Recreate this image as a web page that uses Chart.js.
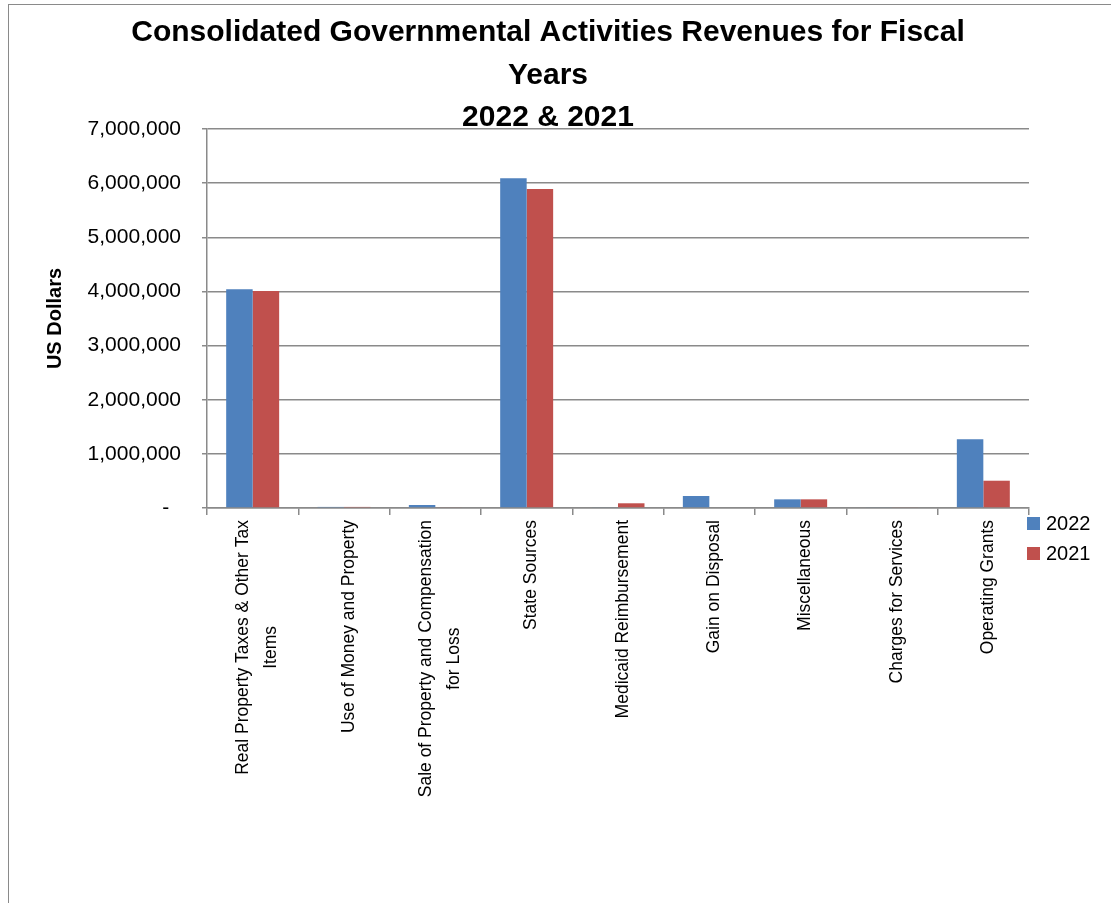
<!DOCTYPE html>
<html>
<head>
<meta charset="utf-8">
<script src="https://cdn.jsdelivr.net/npm/chart.js@4.4.0/dist/chart.umd.min.js"></script>
<style>
  html, body { margin: 0; padding: 0; background: #fff; }
  #wrap { position: relative; width: 1111px; height: 903px; overflow: hidden; }
  #frame { position: absolute; left: 8px; top: 4px; width: 1200px; height: 1000px;
           border-left: 1.5px solid #8a8a8a; border-top: 1.5px solid #8a8a8a; }
  #chart { position: absolute; left: 0; top: 0; }
  #legend { position: absolute; left: 1027px; top: 500px; font: 20px 'Liberation Sans', Arial, sans-serif; color: #000; }
  .lg-item { display: flex; align-items: center; height: 46px; margin-top: -16px; }
  .lg-item:first-child { margin-top: 0; }
  .lg-box { width: 13px; height: 13px; margin-right: 6px; }
</style>
</head>
<body>
<div id="wrap">
  <div id="frame"></div>
  <canvas id="chart" width="1111" height="903"></canvas>
  <div id="legend"></div>
</div>
<script>
const categories = [
  ['Real Property Taxes & Other Tax', 'Items'],
  'Use of Money and Property',
  ['Sale of Property and Compensation', 'for Loss'],
  'State Sources',
  'Medicaid Reimbursement',
  'Gain on Disposal',
  'Miscellaneous',
  'Charges for Services',
  'Operating Grants'
];
const revenue2022 = [4040000, 20000, 55000, 6090000, 15000, 222000, 160000, 15000, 1270000];
const revenue2021 = [4010000, 20000, 15000, 5890000, 87000, 0, 160000, 15000, 504000];
const titleLines = ['Consolidated Governmental Activities Revenues for Fiscal', 'Years', '2022 & 2021'];

const gridColor = '#8a8a8a';
const labelFont = "17.5px 'Liberation Sans', Arial, sans-serif";

/* ── chart title, centred over the plot like the Excel original ── */
const titlePlugin = {
  id: 'excelTitle',
  afterDraw(chart) {
    const ctx = chart.ctx;
    ctx.save();
    ctx.fillStyle = '#000';
    ctx.font = "bold 30px 'Liberation Sans', Arial, sans-serif";
    ctx.textAlign = 'center';
    ctx.textBaseline = 'middle';
    titleLines.forEach((line, i) => {
      ctx.fillText(line, 548, 33 + i * 42.5);
    });
    ctx.restore();
  }
};

/* ── rotated category labels, wrapped lines centred on each other ── */
const categoryLabels = {
  id: 'categoryLabels',
  afterDraw(chart) {
    const xs = chart.scales.x;
    const ctx = chart.ctx;
    ctx.save();
    ctx.font = labelFont;
    ctx.fillStyle = '#000';
    ctx.textAlign = 'center';
    ctx.textBaseline = 'middle';
    categories.forEach((label, i) => {
      const lines = Array.isArray(label) ? label : [label];
      const maxW = Math.max(...lines.map(l => ctx.measureText(l).width));
      const x = xs.getPixelForTick(i);
      ctx.save();
      ctx.translate(x + 5, xs.top + 12);
      ctx.rotate(-Math.PI / 2);
      lines.forEach((line, j) => {
        ctx.fillText(line, -maxW / 2, (j - (lines.length - 1) / 2) * 28);
      });
      ctx.restore();
    });
    ctx.restore();
  }
};

const chart = new Chart(document.getElementById('chart'), {
  type: 'bar',
  data: {
    labels: categories,
    datasets: [
      {
        label: '2022',
        data: revenue2022,
        backgroundColor: '#4F81BD',
        borderWidth: 0,
        categoryPercentage: 0.58,
        barPercentage: 1.0
      },
      {
        label: '2021',
        data: revenue2021,
        backgroundColor: '#C0504D',
        borderWidth: 0,
        categoryPercentage: 0.58,
        barPercentage: 1.0
      }
    ]
  },
  options: {
    responsive: false,
    animation: false,
    layout: { padding: { left: 8, top: 129, right: 82, bottom: 0 } },
    plugins: {
      legend: { display: false },
      title: { display: false },
      tooltip: { enabled: false }
    },
    scales: {
      x: {
        grid: { display: true, drawOnChartArea: false, drawTicks: true, tickLength: 7, color: gridColor, lineWidth: 1.5, offset: true },
        border: { display: true, color: gridColor, width: 1.5 },
        ticks: { display: false, autoSkip: false },
        afterFit(scale) { scale.height = 395; }
      },
      y: {
        min: 0,
        max: 7000000,
        grid: { color: gridColor, lineWidth: 1.5, drawTicks: true, tickLength: 5 },
        border: { display: true, color: gridColor, width: 1.5 },
        ticks: {
          stepSize: 1000000,
          color: '#000',
          padding: 21,
          font: { family: "'Liberation Sans', Arial, sans-serif", size: 21 },
          callback: v => v === 0 ? '-  ' : v.toLocaleString('en-US')
        },
        title: {
          display: true,
          text: 'US Dollars',
          color: '#000',
          font: { family: "'Liberation Sans', Arial, sans-serif", size: 20, weight: 'bold' },
          padding: { top: 35, bottom: 0 }
        },
        afterFit(scale) { scale.width = 199; }
      }
    }
  },
  plugins: [titlePlugin, categoryLabels]
});

// legend from datasets
const legendEl = document.getElementById('legend');
chart.data.datasets.forEach(ds => {
  const item = document.createElement('div');
  item.className = 'lg-item';
  item.innerHTML = `<span class="lg-box" style="background:${ds.backgroundColor}"></span><span>${ds.label}</span>`;
  legendEl.appendChild(item);
});
</script>
</body>
</html>
